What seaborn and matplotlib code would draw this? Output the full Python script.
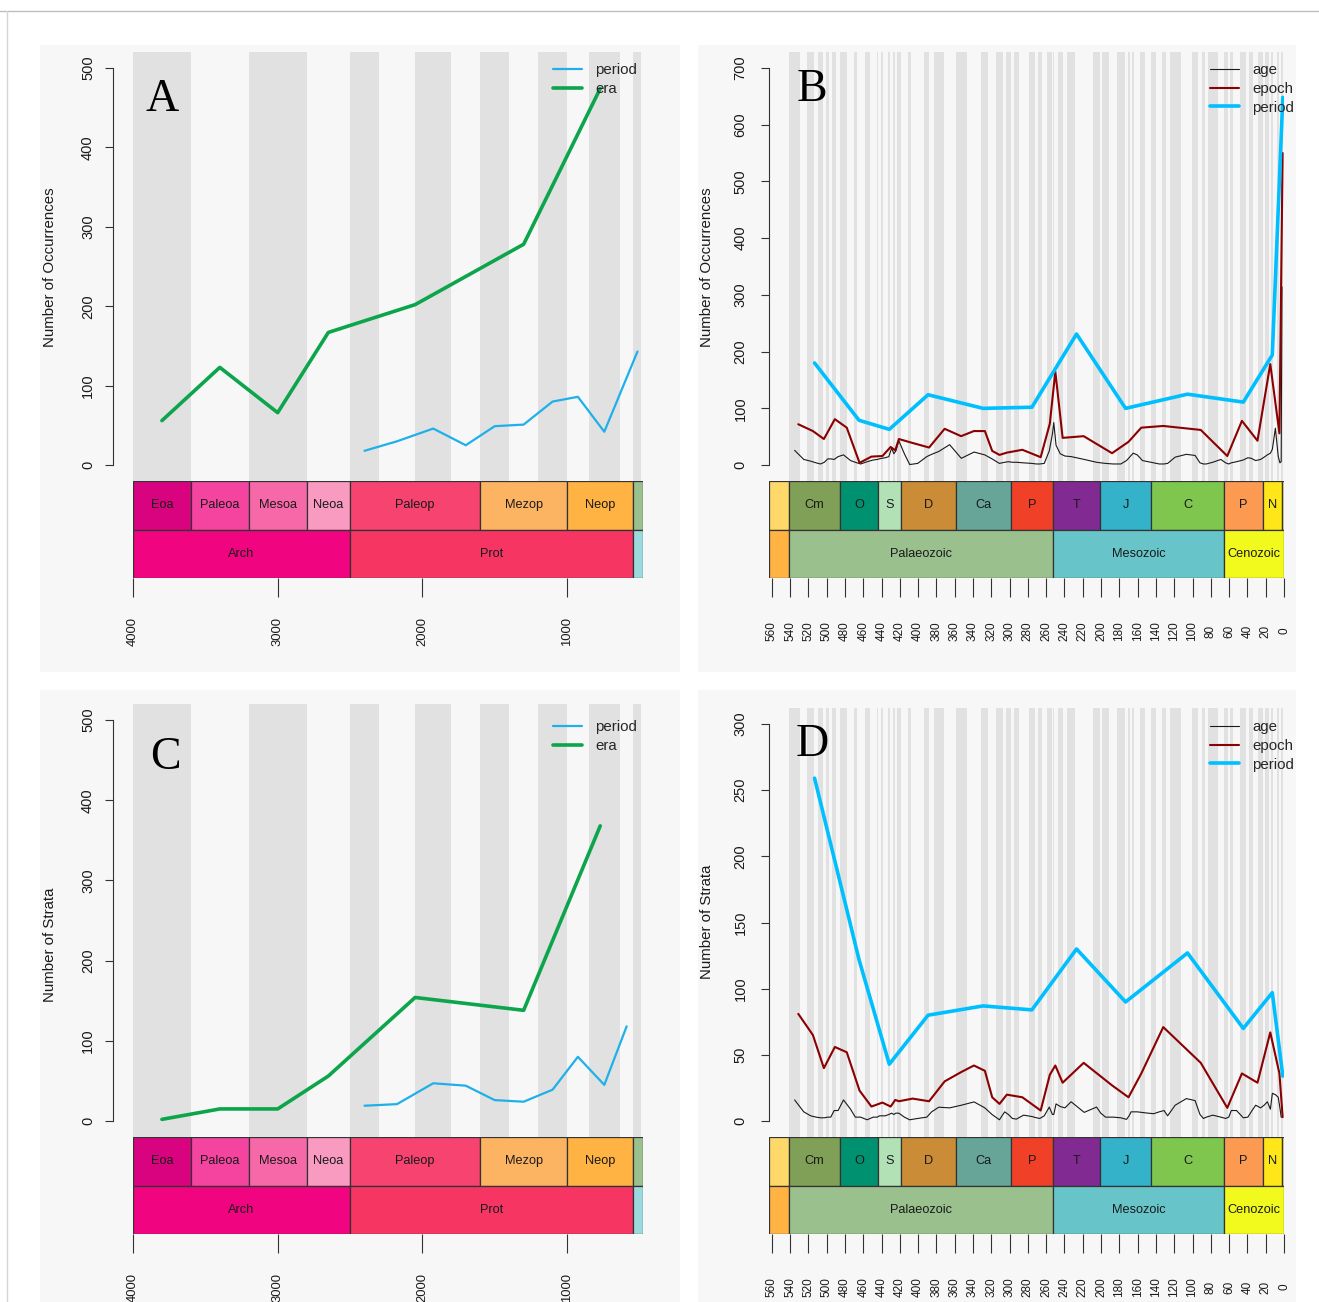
import matplotlib
matplotlib.use("Agg")
import matplotlib.pyplot as plt
from matplotlib.patches import Rectangle
from matplotlib.lines import Line2D
import seaborn as sns

sns.set_style("white")
plt.rcParams["font.family"] = ["Liberation Sans", "DejaVu Sans"]

# ---------------------------------------------------------------- data
# Precambrian time scale (Ma)
pc_row1_names = ["Eoa", "Paleoa", "Mesoa", "Neoa", "Paleop", "Mezop", "Neop", ""]
pc_row1_bounds = [4000, 3600, 3200, 2800, 2500, 1600, 1000, 541, 475]
pc_row1_colors = ["#DA037F", "#F4449F", "#F768A9", "#F99BC1", "#F74370",
                  "#FDB462", "#FEB342", "#99C08D"]
pc_row2_names = ["Arch", "Prot", ""]
pc_row2_bounds = [4000, 2500, 541, 475]
pc_row2_colors = ["#F0047F", "#F73563", "#9AD9DD"]
# alternating background bands: Archaean eras, Proterozoic periods, Cambrian
pc_band_bounds = [4000, 3600, 3200, 2800, 2500, 2300, 2050, 1800, 1600,
                  1400, 1200, 1000, 850, 635, 541, 485.4]

pc_era_mid = [3800, 3400, 3000, 2650, 2050, 1300, 770.5]
pc_period_mid_occ = [2400, 2175, 1925, 1700, 1500, 1300, 1100, 925, 742.5, 513]
pc_period_mid_str = [2400, 2175, 1925, 1700, 1500, 1300, 1100, 925, 742.5, 588]

occ_era = [56, 123, 66, 167, 202, 278, 474]
occ_period = [18, 30, 46, 25, 49, 51, 80, 86, 42, 143]
strata_era = [2, 15, 15, 56, 154, 138, 368]
strata_period = [19, 21, 47, 44, 26, 24, 39, 80, 45, 118]

# Phanerozoic time scale (Ma)
ph_row1_names = ["", "Cm", "O", "S", "D", "Ca", "P", "T", "J", "C", "P", "N", ""]
ph_row1_bounds = [563, 541, 485.4, 443.8, 419.2, 358.9, 298.9, 252.2, 201.3,
                  145, 66, 23.03, 2.58, 0]
ph_row1_colors = ["#FED96A", "#7FA056", "#009270", "#B3E1B6", "#CB8C37",
                  "#67A599", "#F04028", "#812B92", "#34B2C9", "#7FC64E",
                  "#FD9A52", "#FFE619", "#F9F97F"]
ph_row2_names = ["", "Palaeozoic", "Mesozoic", "Cenozoic"]
ph_row2_bounds = [563, 541, 252.2, 66, 0]
ph_row2_colors = ["#FEB342", "#99C08D", "#67C5CA", "#F2F91D"]

# stage (age) boundaries, Fortunian .. Holocene
stage_bounds = [541, 529, 521, 514, 509, 504.5, 500.5, 497, 494, 489.5, 485.4,
                477.7, 470, 467.3, 458.4, 453, 445.2, 443.8,
                440.8, 438.5, 433.4, 430.5, 427.4, 425.6, 423, 419.2,
                410.8, 407.6, 393.3, 387.7, 382.7, 372.2, 358.9,
                346.7, 330.9, 323.2, 315.2, 307, 303.7, 298.9,
                295, 290.1, 279.3, 272.3, 268.8, 265.1, 259.1, 254.1, 252.2,
                251.2, 247.2, 242, 237, 228.4, 208.5, 201.3,
                199.3, 190.8, 182.7, 174.1, 170.3, 168.3, 166.1, 163.5, 157.3,
                152.1, 145,
                139.8, 132.9, 129.4, 125, 113, 100.5, 93.9, 89.8, 86.3, 83.6,
                72.1, 66,
                61.6, 59.2, 56, 47.8, 41.2, 37.8, 33.9, 28.1, 23.03,
                20.44, 15.97, 13.82, 11.62, 7.246, 5.333, 3.6, 2.58,
                1.8, 0.781, 0.126, 0.0117, 0]

ph_epoch_mid = [531, 515, 503, 491, 478, 464, 451, 439, 430, 425, 421, 406,
                388, 371, 353, 339, 327, 319, 311, 303, 286, 266, 256, 250,
                242, 219, 188, 170, 156, 132, 91, 62, 46, 29, 15, 5, 1.5]
ph_period_mid = [513.2, 464.6, 431.5, 389.1, 328.9, 275.6, 226.8, 173.2,
                 105.5, 44.5, 12.8, 1.3]

occ_age = [26, 10, 7, 4, 2, 5, 11, 11, 10, 15,
           18, 8, 5, 2, 6, 9, 10,
           11, 12, 13, 15, 30, 20, 25, 43,
           20, 1, 3, 15, 19, 24, 36,
           12, 23, 18, 11, 3, 5, 6,
           5, 5, 4, 3, 2, 2, 3, 25, 55,
           75, 35, 20, 16, 15, 10, 5,
           4, 3, 2, 2, 8, 13, 17, 21, 18, 8, 6,
           4, 2, 2, 3, 14, 19, 17, 4, 2, 2, 5, 10,
           4, 2, 4, 6, 9, 13, 12, 8, 10,
           14, 18, 21, 28, 65, 15, 4, 6,
           314]
occ_epoch = [72, 60, 46, 81, 66, 4, 15, 16, 32, 26, 46, 39, 31, 64, 51, 60,
             60, 25, 18, 22, 27, 14, 73, 165, 48, 51, 21, 41, 66, 69, 62, 16,
             78, 43, 178, 56, 550]
occ_period_ph = [180, 79, 63, 124, 100, 102, 231, 100, 125, 111, 194, 648]

strata_age = [16, 7, 4, 3, 2.5, 2.5, 3, 3, 8, 8,
              16, 9, 3, 3, 1, 3, 3,
              4, 4, 4, 5, 6, 5, 6, 6,
              3, 1, 2, 3, 7, 10.5, 10,
              12, 14.5, 10, 5, 1, 7, 5,
              2, 1.5, 4.5, 3.5, 2.5, 2, 4, 10.6, 5,
              5, 13, 11, 10, 14.6, 6.6, 10.6,
              6, 3, 3, 2.5, 1.3, 4, 7, 7, 7, 6.5, 6,
              5.6, 7, 8, 4, 12, 17, 15.5, 5, 2, 3, 4.5, 3,
              2, 3, 8, 8, 2.5, 3, 7, 12, 10,
              12, 14.6, 9, 21, 20, 18, 10, 3,
              3]
strata_epoch = [81, 65, 40, 56, 52, 23, 11, 14, 11, 16, 15, 17, 15, 30, 37,
                42, 38, 18, 13, 20, 18, 8, 35, 42, 29, 44, 27, 18, 36, 71, 44,
                10, 36, 29, 67, 36, 3]
strata_period_ph = [259, 122, 43, 80, 87, 84, 130, 90, 127, 70, 97, 34]

stage_mid = [(a + b) / 2 for a, b in zip(stage_bounds[:-1], stage_bounds[1:])]

# ---------------------------------------------------------------- figure
W, H = 1319, 1302
fig = plt.figure(figsize=(W / 100, H / 100), dpi=100)
fig.patch.set_facecolor("white")

PANEL = "#F7F7F7"
BAND = "#E1E1E1"
EDGE = "#333333"
TXT = "#1A1A1A"


def px_axes(x0, y0, x1, y1):
    ax = fig.add_axes([x0 / W, 1 - y1 / H, (x1 - x0) / W, (y1 - y0) / H])
    ax.set_facecolor("none")
    return ax


def px_rect(x0, y0, x1, y1, color):
    fig.add_artist(Rectangle((x0 / W, 1 - y1 / H), (x1 - x0) / W, (y1 - y0) / H,
                             transform=fig.transFigure, facecolor=color,
                             edgecolor="none", zorder=-10))


def bands(ax, bounds):
    for i, (a, b) in enumerate(zip(bounds[:-1], bounds[1:])):
        if i % 2 == 0:
            ax.axvspan(b, a, color=BAND, lw=0, zorder=0)


def scale_row(ax, bounds, names, colors, yc, fs):
    lo = [min(a, b) for a, b in zip(bounds[:-1], bounds[1:])]
    wd = [abs(a - b) for a, b in zip(bounds[:-1], bounds[1:])]
    ax.barh([yc] * len(lo), wd, left=lo, height=1.0, color=colors,
            edgecolor=EDGE, linewidth=0.9)
    for n, a, b in zip(names, bounds[:-1], bounds[1:]):
        if n:
            ax.text((a + b) / 2, yc, n, ha="center", va="center",
                    fontsize=fs, color=TXT)


def panel(main_px, ts_px, xlim, ylim, yticks, spine_off, ypad, bounds_bg,
          rows, xticks, xfs, series, leg_xy, letter, letter_xy, ylab, ylab_xy):
    ax = px_axes(*main_px)
    ax.set_xlim(*xlim)
    ax.set_ylim(*ylim)
    bands(ax, bounds_bg)
    for s in series:
        sns.lineplot(x=s["x"], y=s["y"], ax=ax, color=s["color"],
                     linewidth=s["lw"], label=s["label"], estimator=None,
                     sort=False, zorder=3)
    for sp in ["top", "right", "bottom"]:
        ax.spines[sp].set_visible(False)
    ax.spines["left"].set_position(("outward", spine_off))
    ax.spines["left"].set_bounds(yticks[0], yticks[-1])
    ax.spines["left"].set_color(EDGE)
    ax.spines["left"].set_linewidth(0.8)
    ax.set_xticks([])
    ax.set_yticks(yticks)
    ax.set_yticklabels([str(t) for t in yticks])
    ax.tick_params(axis="y", left=True, direction="out", length=6, width=0.8,
                   color=EDGE, labelsize=10.5, labelcolor=TXT, labelrotation=90,
                   pad=ypad)
    plt.setp(ax.get_yticklabels(), ha="center", va="center")
    ax.set_xlabel("")
    ax.set_ylabel("")

    handles, labels = ax.get_legend_handles_labels()
    ax.legend(handles, labels, loc="upper left",
              bbox_to_anchor=(leg_xy[0] / W, 1 - leg_xy[1] / H),
              bbox_transform=fig.transFigure, frameon=False, fontsize=10.8,
              handlelength=1.95, handletextpad=0.85, labelspacing=0.32,
              borderpad=0, borderaxespad=0)

    ts = px_axes(*ts_px)
    ts.set_xlim(*xlim)
    ts.set_ylim(0, 2)
    (b1, n1, c1), (b2, n2, c2) = rows
    scale_row(ts, b1, n1, c1, 1.5, 9.2)
    scale_row(ts, b2, n2, c2, 0.5, 9.2)
    for sp in ts.spines.values():
        sp.set_visible(False)
    ts.set_yticks([])
    ts.set_xticks(xticks)
    ts.set_xticklabels([str(t) for t in xticks])
    ts.tick_params(axis="x", bottom=True, direction="out", length=13.7,
                   width=0.8, color=EDGE, labelsize=xfs, labelcolor=TXT,
                   labelrotation=90, pad=24.5)
    plt.setp(ts.get_xticklabels(), ha="center", va="center")

    fig.text(letter_xy[0] / W, 1 - letter_xy[1] / H, letter,
             family="Liberation Serif", fontsize=33,
             ha="center", va="center", color="black")
    fig.text(ylab_xy[0] / W, 1 - ylab_xy[1] / H, ylab, rotation=90,
             ha="center", va="center", fontsize=10.8, color=TXT)


# frame and panel backgrounds
fig.add_artist(Line2D([0, 1], [1 - 11 / H] * 2, transform=fig.transFigure,
                      color="#BDBDBD", lw=1))
fig.add_artist(Line2D([7 / W] * 2, [0, 1 - 11 / H], transform=fig.transFigure,
                      color="#D5D5D5", lw=1))
px_rect(40, 45, 680, 672, PANEL)
px_rect(698, 45, 1296, 672, PANEL)
px_rect(40, 690, 680, 1302, PANEL)
px_rect(698, 690, 1296, 1302, PANEL)

PER_PC = "#1FB0EA"
ERA_PC = "#0CA54B"
AGE_C = "#1A1A1A"
EPO_C = "#8B0000"
PER_C = "#00BFFF"

pc_rows = [(pc_row1_bounds, pc_row1_names, pc_row1_colors),
           (pc_row2_bounds, pc_row2_names, pc_row2_colors)]
ph_rows = [(ph_row1_bounds, ph_row1_names, ph_row1_colors),
           (ph_row2_bounds, ph_row2_names, ph_row2_colors)]
pc_ticks = [4000, 3000, 2000, 1000]
ph_ticks = list(range(560, -1, -20))

# A: occurrences, Precambrian
panel((133, 52, 643, 481), (133, 481, 643, 578), (4000, 475), (-20, 520),
      [0, 100, 200, 300, 400, 500], 14.4, 12, pc_band_bounds, pc_rows, pc_ticks,
      9.4,
      [dict(x=pc_period_mid_occ, y=occ_period, color=PER_PC, lw=1.6, label="period"),
       dict(x=pc_era_mid, y=occ_era, color=ERA_PC, lw=2.6, label="era")],
      (553, 63), "A", (162, 100), "Number of Occurrences", (50, 267))

# B: occurrences, Phanerozoic
panel((769, 52, 1284, 481), (769, 481, 1284, 578), (563, 0), (-28, 728),
      [0, 100, 200, 300, 400, 500, 600, 700], 0, 14.5, stage_bounds, ph_rows,
      ph_ticks, 8.5,
      [dict(x=stage_mid[:len(occ_age)], y=occ_age, color=AGE_C, lw=0.8, label="age"),
       dict(x=ph_epoch_mid, y=occ_epoch, color=EPO_C, lw=1.5, label="epoch"),
       dict(x=ph_period_mid, y=occ_period_ph, color=PER_C, lw=2.6, label="period")],
      (1210, 63), "B", (812, 90), "Number of Occurrences", (707, 267))

# C: strata, Precambrian
panel((133, 704, 643, 1137), (133, 1137, 643, 1234), (4000, 475), (-20, 520),
      [0, 100, 200, 300, 400, 500], 14.4, 12, pc_band_bounds, pc_rows, pc_ticks,
      9.4,
      [dict(x=pc_period_mid_str, y=strata_period, color=PER_PC, lw=1.6, label="period"),
       dict(x=pc_era_mid, y=strata_era, color=ERA_PC, lw=2.6, label="era")],
      (553, 720), "C", (165, 758), "Number of Strata", (50, 945))

# D: strata, Phanerozoic
panel((769, 708, 1284, 1137), (769, 1137, 1284, 1234), (563, 0), (-12, 312),
      [0, 50, 100, 150, 200, 250, 300], 0, 14.5, stage_bounds, ph_rows, ph_ticks,
      8.5,
      [dict(x=stage_mid[:len(strata_age)], y=strata_age, color=AGE_C, lw=0.8, label="age"),
       dict(x=ph_epoch_mid, y=strata_epoch, color=EPO_C, lw=1.5, label="epoch"),
       dict(x=ph_period_mid, y=strata_period_ph, color=PER_C, lw=2.6, label="period")],
      (1210, 720), "D", (812, 745), "Number of Strata", (707, 922))

fig.savefig("out.png", dpi=100)
